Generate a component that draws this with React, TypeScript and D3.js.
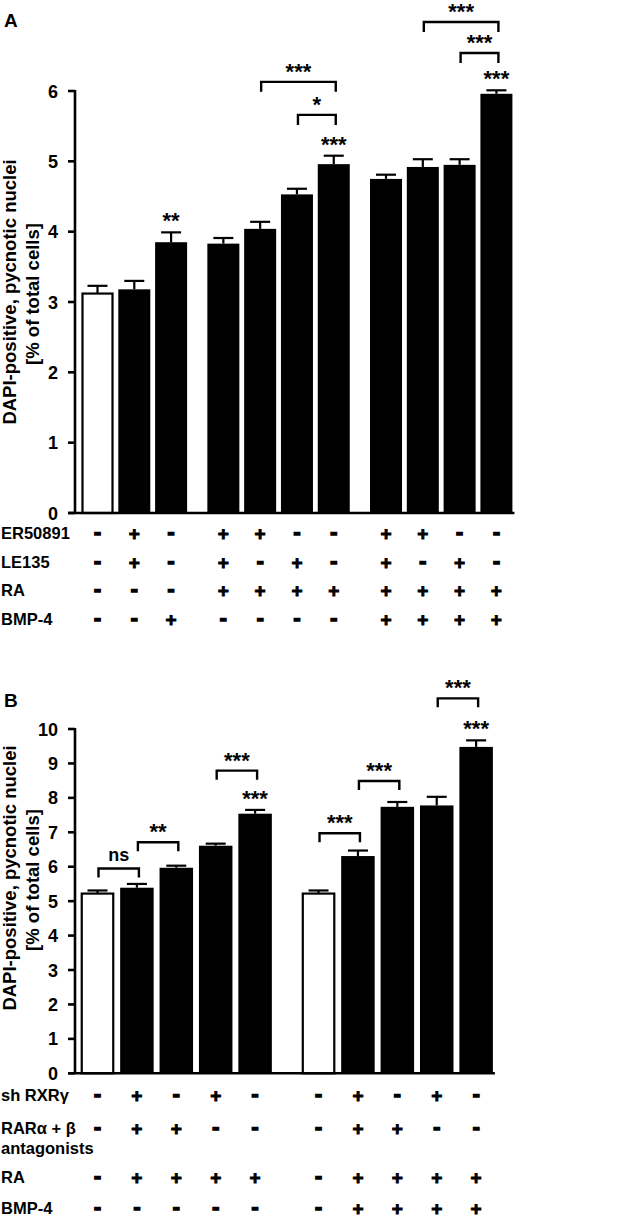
import React from 'react';
import * as d3 from 'd3';

// ---------- Panel A data ----------
const valuesA = [3.12, 3.18, 3.85, 3.83, 4.04, 4.53, 4.96, 4.75, 4.92, 4.95, 5.96];
const errorsA = [0.11, 0.12, 0.14, 0.08, 0.10, 0.08, 0.12, 0.06, 0.11, 0.08, 0.05];
const groupsA = [0, 0, 0, 1, 1, 1, 1, 2, 2, 2, 2];
const openA = [true, false, false, false, false, false, false, false, false, false, false];
const ticksA = [0, 1, 2, 3, 4, 5, 6];
const starsA: [number, string][] = [[2, '**'], [6, '***'], [10, '***']];
const bracketsA: [number, number, number, string][] = [
  [4, 6, 6.13, '***'],
  [5, 6, 5.66, '*'],
  [8, 10, 6.98, '***'],
  [9, 10, 6.54, '***'],
];
const rowLabelsA = ['ER50891', 'LE135', 'RA', 'BMP-4'];
const rowSignsA = [
  '-+-++--++--',
  '-+-+-+-+-+-',
  '---++++++++',
  '--+----++++',
];

// ---------- Panel B data ----------
const valuesB = [5.22, 5.39, 5.97, 6.61, 7.54, 5.22, 6.31, 7.74, 7.78, 9.48];
const errorsB = [0.09, 0.11, 0.06, 0.06, 0.11, 0.09, 0.16, 0.14, 0.25, 0.19];
const groupsB = [0, 0, 0, 0, 0, 1, 1, 1, 1, 1];
const openB = [true, false, false, false, false, true, false, false, false, false];
const ticksB = [0, 1, 2, 3, 4, 5, 6, 7, 8, 9, 10];
const starsB: [number, string][] = [[4, '***'], [9, '***']];
const bracketsB: [number, number, number, string][] = [
  [0, 1, 5.95, 'ns'],
  [1, 2, 6.71, '**'],
  [3, 4, 8.79, '***'],
  [5, 6, 6.97, '***'],
  [6, 7, 8.49, '***'],
  [8, 9, 10.89, '***'],
];
const rowLabelsB = [['sh RXRγ'], ['RARα + β', 'antagonists'], ['RA'], ['BMP-4']];
const rowSignsB = [
  '-+-+--+-+-',
  '-++---++--',
  '-++++-++++',
  '------++++',
];

const FONT = "Arial, 'Liberation Sans', Helvetica, sans-serif";

type PanelProps = {
  letter: string;
  letterY: number;
  values: number[];
  errors: number[];
  groups: number[];
  open: boolean[];
  ticks: number[];
  stars: [number, string][];
  brackets: [number, number, number, string][];
  rowLabels: string[][];
  rowSigns: string[];
  rowYs: number[];
  yMax: number;
  yRange: [number, number];
  xStart: number;
  pitch: number;
  groupGap: number;
  barW: number;
  titleY: number;
  legLen: number;
};

function Panel(p: PanelProps) {
  const n = p.values.length;
  const nG = p.groups[n - 1];
  const slotMax = n - 1 + nG * p.groupGap;
  const x = d3.scaleLinear().domain([0, slotMax]).range([p.xStart, p.xStart + slotMax * p.pitch]);
  const cx = (i: number) => x(i + p.groups[i] * p.groupGap);
  const y = d3.scaleLinear().domain([0, p.yMax]).range(p.yRange);
  const axisX = 75;
  const y0 = y(0);
  const xEnd = cx(n - 1) + p.barW / 2 + 2;
  const cap = 10;

  return (
    <g fontFamily={FONT} fontWeight="bold" fill="#000">
      <text x={4} y={p.letterY + 7} fontSize={19}>{p.letter}</text>
      {/* y axis title */}
      <g transform={`translate(16,${p.titleY}) rotate(-90)`}>
        <text textAnchor="middle" fontSize={18.5}>DAPI-positive, pycnotic nuclei</text>
      </g>
      <g transform={`translate(38.5,${p.titleY + 2}) rotate(-90)`}>
        <text textAnchor="middle" fontSize={18.5}>[% of total cells]</text>
      </g>
      {/* bars */}
      {p.values.map((v, i) => (
        <rect
          key={'b' + i}
          x={cx(i) - p.barW / 2 + (p.open[i] ? 1 : 0)}
          y={y(v)}
          width={p.barW - (p.open[i] ? 2 : 0)}
          height={y0 - y(v)}
          fill={p.open[i] ? '#fff' : '#000'}
          stroke="#000"
          strokeWidth={p.open[i] ? 2.2 : 0}
        />
      ))}
      {/* error bars */}
      {p.values.map((v, i) => (
        <g key={'e' + i} stroke="#000" strokeWidth={2.2}>
          <line x1={cx(i)} x2={cx(i)} y1={y(v)} y2={y(v + p.errors[i])} />
          <line x1={cx(i) - cap} x2={cx(i) + cap} y1={y(v + p.errors[i])} y2={y(v + p.errors[i])} />
        </g>
      ))}
      {/* axes */}
      <line x1={axisX} x2={axisX} y1={y(p.yMax) - 1} y2={y0} stroke="#000" strokeWidth={2.6} />
      <line x1={axisX - 7} x2={xEnd} y1={y0} y2={y0} stroke="#000" strokeWidth={2.6} />
      {p.ticks.map((t) => (
        <g key={'t' + t}>
          <line x1={axisX - 7} x2={axisX} y1={y(t)} y2={y(t)} stroke="#000" strokeWidth={2.6} />
          <text x={58} y={y(t) + 6.5} textAnchor="end" fontSize={18}>{t}</text>
        </g>
      ))}
      {/* stars above bars */}
      {p.stars.map(([i, s]) => (
        <text key={'s' + i} x={cx(i)} y={y(p.values[i] + p.errors[i]) - 4} textAnchor="middle" fontSize={22}>{s}</text>
      ))}
      {/* brackets */}
      {p.brackets.map(([a, b, lv, s], k) => {
        const by = y(lv);
        const xa = cx(a) + 1;
        const xb = cx(b) + 2;
        const path = d3.path();
        path.moveTo(xa, by + p.legLen);
        path.lineTo(xa, by);
        path.lineTo(xb, by);
        path.lineTo(xb, by + p.legLen);
        return (
          <g key={'k' + k}>
            <path d={path.toString()} fill="none" stroke="#000" strokeWidth={2.4} />
            {s === 'ns' ? (
              <text x={(xa + xb) / 2} y={by - 7} textAnchor="middle" fontSize={18}>{s}</text>
            ) : (
              <text x={(xa + xb) / 2} y={by - 3} textAnchor="middle" fontSize={22}>{s}</text>
            )}
          </g>
        );
      })}
      {/* table */}
      {p.rowLabels.map((lines, r) => (
        <g key={'r' + r}>
          {lines.map((ln, j) => (
            <text key={j} x={1} y={p.rowYs[r] + 6 + j * 20} fontSize={16.5}>{ln}</text>
          ))}
          {p.rowSigns[r].split('').map((c, i) => (
            c === '+' ? (
              <text key={i} x={cx(i)} y={p.rowYs[r] + 6.5} textAnchor="middle" fontSize={19} stroke="#000" strokeWidth={0.9}>+</text>
            ) : (
              <text key={i} x={cx(i)} y={p.rowYs[r] + 5.5} textAnchor="middle" fontSize={21} stroke="#000" strokeWidth={1.6}>-</text>
            )
          ))}
        </g>
      ))}
    </g>
  );
}

export default function App() {
  return (
    <div style={{ position: 'absolute', left: 0, top: 0 }}>
      <svg width={634} height={1218} viewBox="0 0 634 1218" style={{ display: 'block', background: '#fff' }}>
        <rect x={0} y={0} width={634} height={1218} fill="#fff" />
        <Panel
          letter="A"
          letterY={20}
          values={valuesA}
          errors={errorsA}
          groups={groupsA}
          open={openA}
          ticks={ticksA}
          stars={starsA}
          brackets={bracketsA}
          rowLabels={rowLabelsA.map((l) => [l])}
          rowSigns={rowSignsA}
          rowYs={[533, 562, 590, 619]}
          yMax={6}
          yRange={[513, 91]}
          xStart={97.5}
          pitch={36.8}
          groupGap={0.42}
          barW={32}
          titleY={292}
          legLen={10}
        />
        <Panel
          letter="B"
          letterY={700}
          values={valuesB}
          errors={errorsB}
          groups={groupsB}
          open={openB}
          ticks={ticksB}
          stars={starsB}
          brackets={bracketsB}
          rowLabels={rowLabelsB}
          rowSigns={rowSignsB}
          rowYs={[1095, 1128, 1177, 1208]}
          yMax={10}
          yRange={[1073.3, 729]}
          xStart={97.5}
          pitch={39.4}
          groupGap={0.61}
          barW={33.5}
          titleY={878}
          legLen={9}
        />
      </svg>
    </div>
  );
}
